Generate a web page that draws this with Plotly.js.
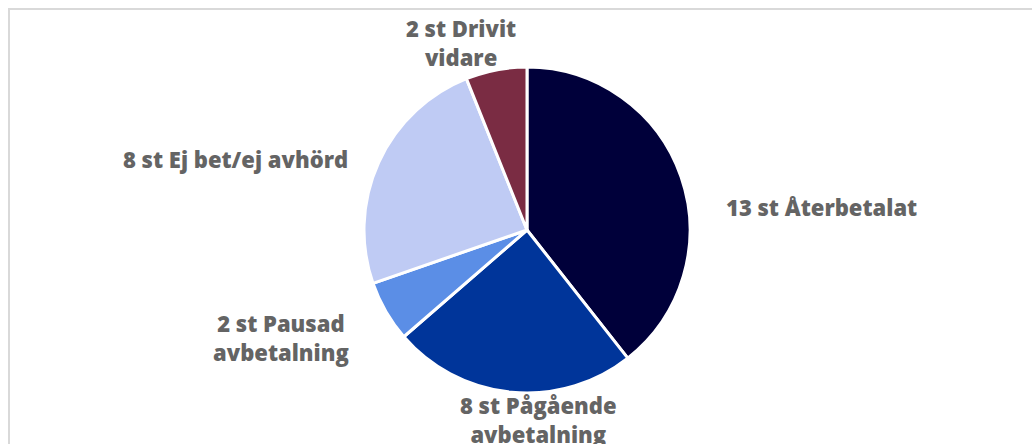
<!DOCTYPE html>
<html>
<head>
<meta charset="utf-8">
<script src="https://cdn.plot.ly/plotly-3.0.1.min.js"></script>
<style>
  html, body { margin: 0; padding: 0; background: #fff; }
  #frame { position: absolute; left: 8px; top: 8px; width: 1100px; height: 500px; border: 2px solid #d9d9d9; }
  #chart { position: absolute; left: 0; top: 0; width: 1032px; height: 444px; }
</style>
</head>
<body>
<div id="frame"></div>
<div id="chart"></div>
<script>
const names = ["Återbetalat", "Pågående<br>avbetalning", "Pausad<br>avbetalning", "Ej bet/ej avhörd", "Drivit<br>vidare"];
const counts = [13, 8, 2, 8, 2];
const colors = ["#00003a", "#00359a", "#5b8ee6", "#bfcbf4", "#7a2c43"];

const W = 1032, H = 444;
// label centres in pixels, placed like the original chart
const labelPos = [[821, 207], [538, 419], [281, 337], [235, 159], [461, 42]];

const trace = {
  type: "pie",
  labels: names,
  values: counts,
  textinfo: "none",
  hoverinfo: "none",
  sort: false,
  direction: "clockwise",
  rotation: 0,
  marker: { colors: colors, line: { color: "#ffffff", width: 3 } },
  domain: { x: [364 / W, 690 / W], y: [51 / H, 377 / H] }
};

const annotations = counts.map((c, i) => ({
  xref: "paper", yref: "paper",
  x: labelPos[i][0] / W,
  y: 1 - labelPos[i][1] / H,
  xanchor: "center", yanchor: "middle",
  text: `${c} st ${names[i]}`,
  showarrow: false,
  align: "center",
  font: { family: "'Open Sans', sans-serif", size: 22, color: "#646464", weight: 800 }
}));

const layout = {
  width: W,
  height: H,
  margin: { l: 0, r: 0, t: 0, b: 0 },
  showlegend: false,
  annotations: annotations,
  paper_bgcolor: "rgba(0,0,0,0)",
  plot_bgcolor: "rgba(0,0,0,0)"
};

Plotly.newPlot("chart", [trace], layout, { displayModeBar: false, staticPlot: true });
</script>
</body>
</html>
